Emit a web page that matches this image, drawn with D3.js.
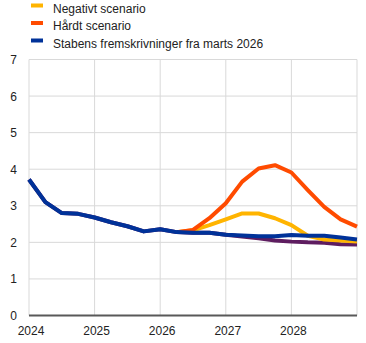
<!DOCTYPE html>
<html><head><meta charset="utf-8">
<script src="https://cdn.jsdelivr.net/npm/d3@7/dist/d3.min.js"></script>
<style>body{margin:0;background:#fff}svg{display:block}text{font-family:"Liberation Sans",Arial,sans-serif;fill:#222}</style>
</head><body><svg id="c" width="366" height="343"></svg>
<script>
// quarterly points 2024Q1 .. 2029Q1 (index 0..20)
const quarters = d3.range(21);
const yearTicks = [0, 4, 8, 12, 16];
const yearLabels = ["2024", "2025", "2026", "2027", "2028"];
const yTicks = [0, 1, 2, 3, 4, 5, 6, 7];

const staff =    [3.72,3.1,2.8,2.78,2.68,2.55,2.44,2.3,2.36,2.28,2.26,2.26,2.21,2.19,2.17,2.17,2.2,2.18,2.18,2.13,2.08];
const purple =   [3.72,3.1,2.8,2.78,2.68,2.55,2.44,2.3,2.36,2.28,2.26,2.26,2.21,2.16,2.11,2.05,2.02,2.0,1.99,1.95,1.94];
const negative = [null,null,null,null,null,null,null,null,null,2.28,2.33,2.47,2.63,2.79,2.79,2.66,2.47,2.18,2.08,2.05,2.02];
const hard =     [null,null,null,null,null,null,null,null,null,2.28,2.34,2.66,3.07,3.66,4.02,4.11,3.91,3.43,2.97,2.63,2.43];

const legendNames = ["Negativt scenario", "Hårdt scenario", "Stabens fremskrivninger fra marts 2026"];
const colors = {neg:"#ffb400", hard:"#ff4b00", staff:"#003299", purple:"#5e1d60"};

const svg = d3.select("#c");
const x = d3.scaleLinear().domain([0, 20]).range([29, 357]);
const y = d3.scaleLinear().domain([0, 7]).range([315.5, 59.5]);

// grid
svg.append("g").selectAll("line").data(yTicks.filter(d=>d>0)).join("line")
  .attr("x1", 29).attr("x2", 357).attr("y1", d=>y(d)).attr("y2", d=>y(d))
  .attr("stroke", "#d9d9d9").attr("stroke-width", 1);
svg.append("g").selectAll("line").data(yearTicks.concat([20])).join("line")
  .attr("x1", d=>x(d)).attr("x2", d=>x(d)).attr("y1", y(7)).attr("y2", y(0))
  .attr("stroke", "#d9d9d9").attr("stroke-width", 1);

// y labels
svg.append("g").selectAll("text").data(yTicks).join("text")
  .attr("x", 17).attr("y", d=>y(d)+4.5).attr("text-anchor","end")
  .attr("font-size", 12).text(d=>d);

// x labels
svg.append("g").selectAll("text").data(yearTicks).join("text")
  .attr("x", (d)=>x(d)+2).attr("y", 335).attr("text-anchor","middle")
  .attr("font-size", 12).text((d,i)=>yearLabels[i]);

// lines
const line = d3.line().defined(d=>d[1]!=null).x(d=>x(d[0])).y(d=>y(d[1]));
const series = [[purple, colors.purple],[negative, colors.neg],[hard, colors.hard],[staff, colors.staff]];
series.forEach(([vals,col])=>{
  svg.append("path").datum(quarters.map(i=>[i, vals[i]]))
    .attr("d", line).attr("fill","none").attr("stroke", col)
    .attr("stroke-width", 4).attr("stroke-linejoin","round");
});

// axis baseline
svg.append("line").attr("x1", 29).attr("x2", 357).attr("y1", y(0)).attr("y2", y(0))
  .attr("stroke", "#595959").attr("stroke-width", 2);

// legend
const lg = svg.append("g");
const legCols = [colors.neg, colors.hard, colors.staff];
legendNames.forEach((n,i)=>{
  lg.append("rect").attr("x", 31).attr("y", 3.5 + i*17.5).attr("width", 12).attr("height", 4).attr("fill", legCols[i]);
  lg.append("text").attr("x", 53).attr("y", 12.5 + i*17.5).attr("font-size", 12).text(n);
});
</script></body></html>
